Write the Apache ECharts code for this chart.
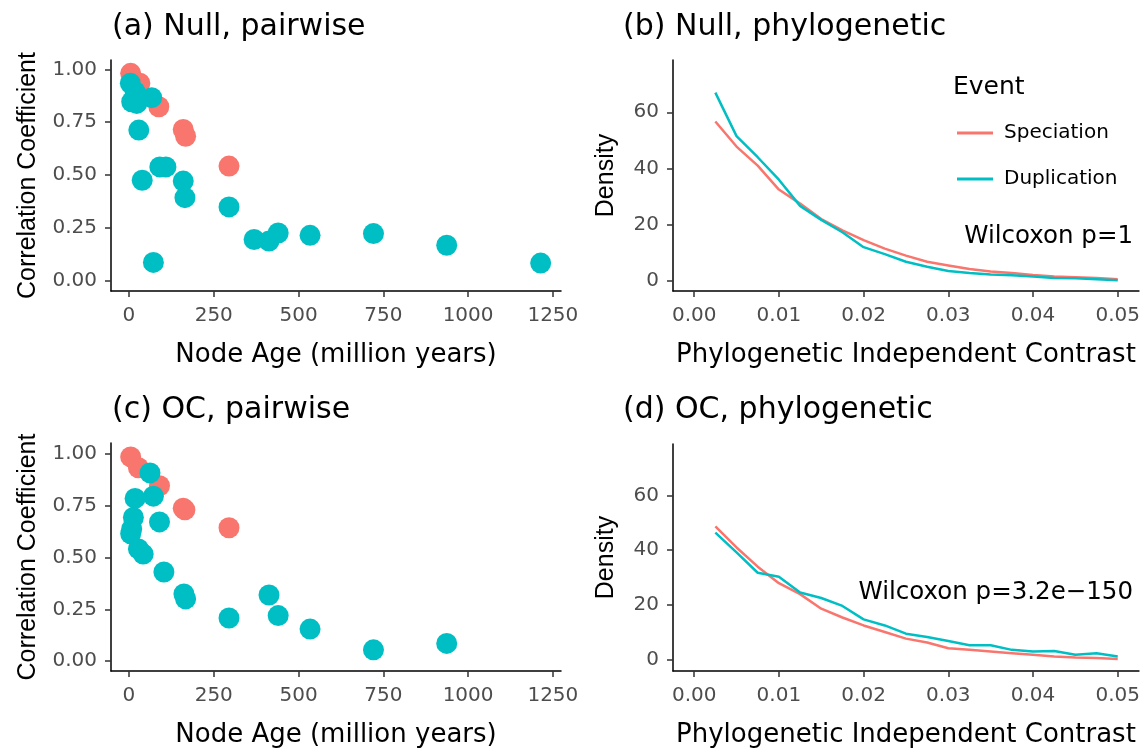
<!DOCTYPE html>
<html>
<head>
<meta charset="utf-8">
<script src="https://cdn.jsdelivr.net/npm/echarts@6/dist/echarts.min.js"></script>
<style>
  html, body { margin: 0; padding: 0; background: #fff; }
  #main { width: 1143px; height: 749px; }
</style>
</head>
<body>
<div id="main"></div>
<script>
// ---- data ----
// (a) Null, pairwise
var nullSpecAge = [5, 32, 88, 160, 167, 295];
var nullSpecCor = [0.981, 0.934, 0.823, 0.716, 0.684, 0.543];
var nullDupAge = [4, 18, 8, 23, 67, 29, 39, 91, 109, 160, 165, 295, 72, 369, 413, 440, 534, 721, 937, 1214];
var nullDupCor = [0.934, 0.894, 0.847, 0.839, 0.866, 0.713, 0.476, 0.539, 0.539, 0.472, 0.394, 0.350, 0.088, 0.196, 0.189, 0.227, 0.216, 0.224, 0.169, 0.085];

// (c) OC, pairwise
var ocSpecAge = [5, 28, 90, 160, 165, 295];
var ocSpecCor = [0.984, 0.932, 0.845, 0.737, 0.729, 0.643];
var ocDupAge = [62, 18, 72, 13, 8, 5, 90, 28, 42, 103, 162, 167, 295, 413, 440, 534, 721, 937];
var ocDupCor = [0.907, 0.784, 0.795, 0.692, 0.637, 0.614, 0.671, 0.541, 0.516, 0.430, 0.324, 0.300, 0.208, 0.319, 0.220, 0.155, 0.055, 0.086];

// (b)/(d) density of phylogenetic independent contrasts
var picX = [0.0025, 0.005, 0.0075, 0.01, 0.0125, 0.015, 0.0175, 0.02, 0.0225, 0.025,
            0.0275, 0.03, 0.0325, 0.035, 0.0375, 0.04, 0.0425, 0.045, 0.0475, 0.05];
var nullSpecDens = [56.7, 47.8, 41, 32.5, 27.5, 22, 18, 14.5, 11.5, 9, 6.8, 5.5, 4.2, 3.3, 2.8, 2.1, 1.6, 1.3, 1, 0.6];
var nullDupDens  = [67, 51.5, 44, 36, 26.7, 21.7, 17.3, 12, 9.5, 6.8, 5, 3.5, 2.8, 2.3, 2.0, 1.6, 1.0, 0.9, 0.6, 0.2];
var ocSpecDens   = [48.7, 41, 34, 28, 24, 18.7, 15.5, 12.6, 10.2, 7.8, 6.4, 4.3, 3.7, 3.1, 2.5, 1.9, 1.3, 0.9, 0.7, 0.4];
var ocDupDens    = [46.4, 39.2, 31.8, 30.3, 24.6, 22.6, 19.7, 14.8, 12.6, 9.6, 8.4, 6.9, 5.4, 5.4, 3.7, 3.1, 3.3, 1.9, 2.5, 1.3];

// tick labels
var ageTicks = [0, 250, 500, 750, 1000, 1250];
var corTicks = [0, 0.25, 0.5, 0.75, 1];
var picTicks = [0, 0.01, 0.02, 0.03, 0.04, 0.05];
var densTicks = [0, 20, 40, 60];

var RED = '#F8766D', CYAN = '#00BFC4';
var FONT = 'DejaVu Sans';
var VFONT = 'Liberation Sans';

function zip(xs, ys) {
    var out = [];
    for (var i = 0; i < xs.length; i++) out.push([xs[i], ys[i]]);
    return out;
}

function mkAxis(grid, min, max, ticks, fmt, name, gap, horiz) {
    return {
        type: 'value', gridIndex: grid, min: min, max: max,
        name: name, nameLocation: 'middle', nameGap: gap,
        nameTextStyle: horiz
            ? { color: '#000', fontSize: 26, fontFamily: FONT }
            : { color: '#000', fontSize: 25, fontFamily: VFONT },
        axisLine: { onZero: false, lineStyle: { color: '#000', width: 1.5 } },
        axisTick: { customValues: ticks, length: 6, lineStyle: { color: '#333', width: 1.5 } },
        axisLabel: { customValues: ticks, formatter: fmt, color: '#4d4d4d', fontSize: 20, margin: horiz ? 15 : 14, fontFamily: FONT },
        splitLine: { show: false }
    };
}

var fmtInt = function (v) { return String(Math.round(v)); };
var fmt2 = function (v) { return v.toFixed(2); };

var myChart = echarts.init(document.getElementById('main'));

var option = {
    animation: false,
    textStyle: { fontFamily: FONT },
    title: [
        { text: '(a) Null, pairwise', left: 112, top: 12 },
        { text: '(b) Null, phylogenetic', left: 623, top: 12 },
        { text: '(c) OC, pairwise', left: 112, top: 395 },
        { text: '(d) OC, phylogenetic', left: 623, top: 395 }
    ].map(function (t) {
        t.padding = 0;
        t.textStyle = { fontSize: 30, fontWeight: 'normal', color: '#000', fontFamily: FONT };
        return t;
    }),
    grid: [
        { left: 111, top: 60, width: 450, height: 231 },
        { left: 673, top: 60, width: 467, height: 231 },
        { left: 111, top: 443, width: 450, height: 232 },
        { left: 673, top: 444, width: 467, height: 232 }
    ],
    xAxis: [
        mkAxis(0, -53, 1274, ageTicks, fmtInt, 'Node Age (million years)', 51, true),
        mkAxis(1, -0.0025, 0.0525, picTicks, fmt2, 'Phylogenetic Independent Contrast', 51, true),
        mkAxis(2, -53, 1274, ageTicks, fmtInt, 'Node Age (million years)', 51, true),
        mkAxis(3, -0.0025, 0.0525, picTicks, fmt2, 'Phylogenetic Independent Contrast', 51, true)
    ],
    yAxis: [
        mkAxis(0, -0.047, 1.044, corTicks, fmt2, 'Correlation Coefficient', 70, false),
        mkAxis(1, -3.6, 78.6, densTicks, fmtInt, 'Density', 54, false),
        mkAxis(2, -0.047, 1.051, corTicks, fmt2, 'Correlation Coefficient', 70, false),
        mkAxis(3, -4.0, 78.7, densTicks, fmtInt, 'Density', 54, false)
    ],
    legend: {
        orient: 'vertical', left: 957, top: 121, padding: 0,
        itemWidth: 36, itemHeight: 3, itemGap: 22, icon: 'rect',
        textStyle: { fontSize: 20, lineHeight: 24, color: '#000', padding: [0, 0, 0, 6], fontFamily: FONT },
        data: ['Speciation', 'Duplication']
    },
    graphic: [
        { type: 'text', left: 953, top: 75, style: { text: 'Event', fontSize: 25, fill: '#000', fontFamily: FONT } },
        { type: 'text', style: { text: 'Wilcoxon p=1', x: 1133, y: 237, textAlign: 'right', textVerticalAlign: 'middle', fontSize: 24.5, fill: '#000', fontFamily: FONT } },
        { type: 'text', style: { text: 'Wilcoxon p=3.2e\u2212150', x: 1133, y: 593, textAlign: 'right', textVerticalAlign: 'middle', fontSize: 24.5, fill: '#000', fontFamily: FONT } }
    ],
    series: [
        { name: 'Speciation', type: 'scatter', xAxisIndex: 0, yAxisIndex: 0, symbolSize: 21, itemStyle: { color: RED, opacity: 1 }, data: zip(nullSpecAge, nullSpecCor) },
        { name: 'Duplication', type: 'scatter', xAxisIndex: 0, yAxisIndex: 0, symbolSize: 21, itemStyle: { color: CYAN, opacity: 1 }, data: zip(nullDupAge, nullDupCor) },
        { name: 'Speciation', type: 'scatter', xAxisIndex: 2, yAxisIndex: 2, symbolSize: 21, itemStyle: { color: RED, opacity: 1 }, data: zip(ocSpecAge, ocSpecCor) },
        { name: 'Duplication', type: 'scatter', xAxisIndex: 2, yAxisIndex: 2, symbolSize: 21, itemStyle: { color: CYAN, opacity: 1 }, data: zip(ocDupAge, ocDupCor) },
        { name: 'Speciation', type: 'line', xAxisIndex: 1, yAxisIndex: 1, showSymbol: false, color: RED, lineStyle: { width: 2.5, color: RED }, data: zip(picX, nullSpecDens) },
        { name: 'Duplication', type: 'line', xAxisIndex: 1, yAxisIndex: 1, showSymbol: false, color: CYAN, lineStyle: { width: 2.5, color: CYAN }, data: zip(picX, nullDupDens) },
        { name: 'Speciation', type: 'line', xAxisIndex: 3, yAxisIndex: 3, showSymbol: false, color: RED, lineStyle: { width: 2.5, color: RED }, data: zip(picX, ocSpecDens) },
        { name: 'Duplication', type: 'line', xAxisIndex: 3, yAxisIndex: 3, showSymbol: false, color: CYAN, lineStyle: { width: 2.5, color: CYAN }, data: zip(picX, ocDupDens) }
    ]
};

myChart.setOption(option);
</script>
</body>
</html>
